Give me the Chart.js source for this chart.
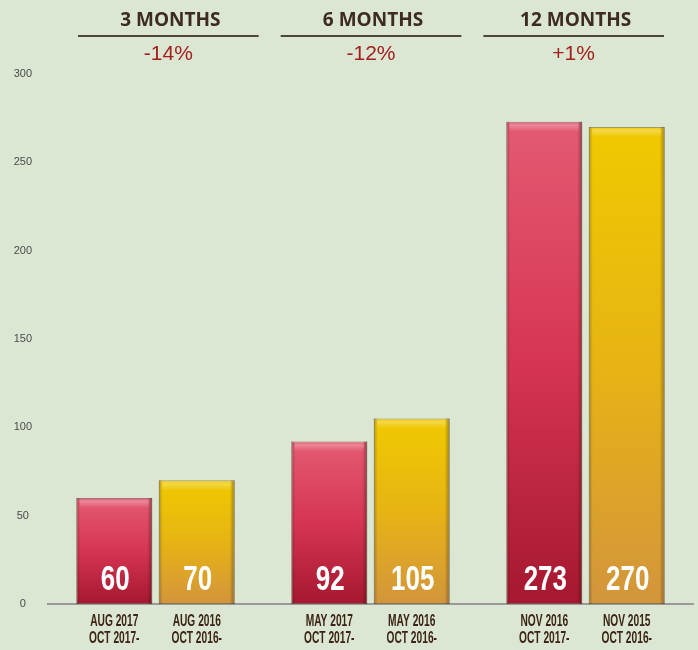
<!DOCTYPE html>
<html>
<head>
<meta charset="utf-8">
<script src="https://cdn.jsdelivr.net/npm/chart.js@4/dist/chart.umd.min.js"></script>
<style>
html,body{margin:0;padding:0;background:#dbe7d2;}
#wrap{width:698px;height:650px;position:relative;}
</style>
</head>
<body>
<div id="wrap"><canvas id="c" width="698" height="650"></canvas></div>
<script>
const groups = ['3 MONTHS', '6 MONTHS', '12 MONTHS'];
const changes = ['-14%', '-12%', '+1%'];
const currentValues = [60, 92, 273];
const previousValues = [70, 105, 270];
const currentLabels = [['AUG 2017', 'OCT 2017-'], ['MAY 2017', 'OCT 2017-'], ['NOV 2016', 'OCT 2017-']];
const previousLabels = [['AUG 2016', 'OCT 2016-'], ['MAY 2016', 'OCT 2016-'], ['NOV 2015', 'OCT 2016-']];
const yMax = 300;
const yStep = 50;

function barGradient(ctx, stops) {
  const chart = ctx.chart;
  const area = chart.chartArea;
  if (!area) return stops[0];
  const ys = chart.scales.y;
  const v = ctx.raw == null ? 0 : ctx.raw;
  const top = ys.getPixelForValue(v);
  const bottom = ys.getPixelForValue(0);
  const g = chart.ctx.createLinearGradient(0, top, 0, bottom);
  g.addColorStop(0, stops[0]);
  g.addColorStop(0.5, stops[1]);
  g.addColorStop(1, stops[2]);
  return g;
}

function condensedText(ctx, text, x, y, font, sx, color) {
  ctx.save();
  ctx.font = font;
  ctx.fillStyle = color;
  ctx.textAlign = 'center';
  ctx.textBaseline = 'alphabetic';
  ctx.translate(x, y);
  ctx.scale(sx, 1);
  ctx.fillText(text, 0, 0);
  ctx.restore();
}

const bgPlugin = {
  id: 'bg',
  beforeDraw(chart) {
    const c = chart.ctx;
    c.save();
    c.fillStyle = '#dbe7d2';
    c.fillRect(0, 0, chart.width, chart.height);
    c.restore();
  }
};

const decoPlugin = {
  id: 'deco',
  afterDatasetsDraw(chart) {
    const c = chart.ctx;
    const ys = chart.scales.y;
    const area = chart.chartArea;
    const zeroY = ys.getPixelForValue(0);
    const labelSets = [currentLabels, previousLabels];
    chart.data.datasets.forEach((ds, di) => {
      const meta = chart.getDatasetMeta(di);
      meta.data.forEach((bar, i) => {
        const p = bar.getProps(['x', 'y', 'width', 'base'], true);
        const l = p.x - p.width / 2, r = p.x + p.width / 2;
        c.save();
        let g = c.createLinearGradient(0, p.y, 0, p.y + 10);
        g.addColorStop(0, 'rgba(255,255,255,0.0)');
        g.addColorStop(0.35, 'rgba(255,255,255,0.28)');
        g.addColorStop(1, 'rgba(255,255,255,0)');
        c.fillStyle = g;
        c.fillRect(l + 3, p.y + 1, p.width - 6, 10);
        g = c.createLinearGradient(r - 5, 0, r, 0);
        g.addColorStop(0, 'rgba(0,0,0,0)');
        g.addColorStop(1, 'rgba(40,10,0,0.35)');
        c.fillStyle = g;
        c.fillRect(r - 5, p.y, 5, p.base - p.y);
        g = c.createLinearGradient(l, 0, l + 4, 0);
        g.addColorStop(0, 'rgba(40,10,0,0.25)');
        g.addColorStop(1, 'rgba(0,0,0,0)');
        c.fillStyle = g;
        c.fillRect(l, p.y, 4, p.base - p.y);
        c.restore();
        condensedText(c, String(ds.data[i]), p.x + 1, zeroY - 14, 'bold 35px "Liberation Sans"', 0.74, '#ffffff');
        const lab = labelSets[di][i];
        condensedText(c, lab[0], p.x, zeroY + 22, 'bold 17px "Liberation Sans"', 0.6, '#3b2416');
        condensedText(c, lab[1], p.x, zeroY + 39, 'bold 17px "Liberation Sans"', 0.6, '#3b2416');
      });
    });
    // headers spread evenly over the top band
    const hL = area.left + 30, hR = area.right - 29, gap = 22;
    const segW = (hR - hL - gap * (groups.length - 1)) / groups.length;
    groups.forEach((g, i) => {
      const x0 = hL + i * (segW + gap);
      const cx = x0 + segW / 2;
      c.save();
      c.fillStyle = '#3d2b1f';
      c.font = 'bold 19px "Open Sans"';
      c.textAlign = 'center';
      c.textBaseline = 'alphabetic';
      c.fillText(g, cx + 2, 26);
      c.strokeStyle = '#4d463a';
      c.lineWidth = 2;
      c.beginPath();
      c.moveTo(x0, 36);
      c.lineTo(x0 + segW, 36);
      c.stroke();
      c.fillStyle = '#a3201f';
      c.font = '21px "Liberation Sans"';
      c.fillText(changes[i], cx, 60);
      c.restore();
    });
  }
};

new Chart(document.getElementById('c'), {
  type: 'bar',
  data: {
    labels: groups,
    datasets: [
      {
        label: 'Current',
        data: currentValues,
        backgroundColor: (ctx) => barGradient(ctx, ['#e45a72', '#d63552', '#a5182f']),
        borderColor: 'rgba(110,20,30,0.55)',
        borderWidth: 1,
        borderSkipped: false
      },
      {
        label: 'Previous',
        data: previousValues,
        backgroundColor: (ctx) => barGradient(ctx, ['#f0c900', '#e6b414', '#d2953c']),
        borderColor: 'rgba(120,90,10,0.55)',
        borderWidth: 1,
        borderSkipped: false
      }
    ]
  },
  options: {
    responsive: false,
    animation: false,
    devicePixelRatio: 1,
    layout: { padding: { top: 74, bottom: 46, left: 0, right: 5 } },
    categoryPercentage: 0.767,
    barPercentage: 0.92,
    plugins: { legend: { display: false }, tooltip: { enabled: false } },
    scales: {
      x: {
        grid: { display: false },
        border: { display: true, color: '#9a9a9a', width: 2 },
        ticks: { display: false },
        afterFit(s) { s.height = 0; }
      },
      y: {
        min: 0,
        max: yMax,
        grid: { display: false, drawTicks: false },
        border: { display: false },
        ticks: {
          stepSize: yStep,
          crossAlign: 'center',
          padding: 16,
          color: '#4a4a4a',
          font: { family: '"Liberation Sans"', size: 11 }
        },
        afterFit(s) { s.width = 48; }
      }
    }
  },
  plugins: [bgPlugin, decoPlugin]
});
</script>
</body>
</html>
